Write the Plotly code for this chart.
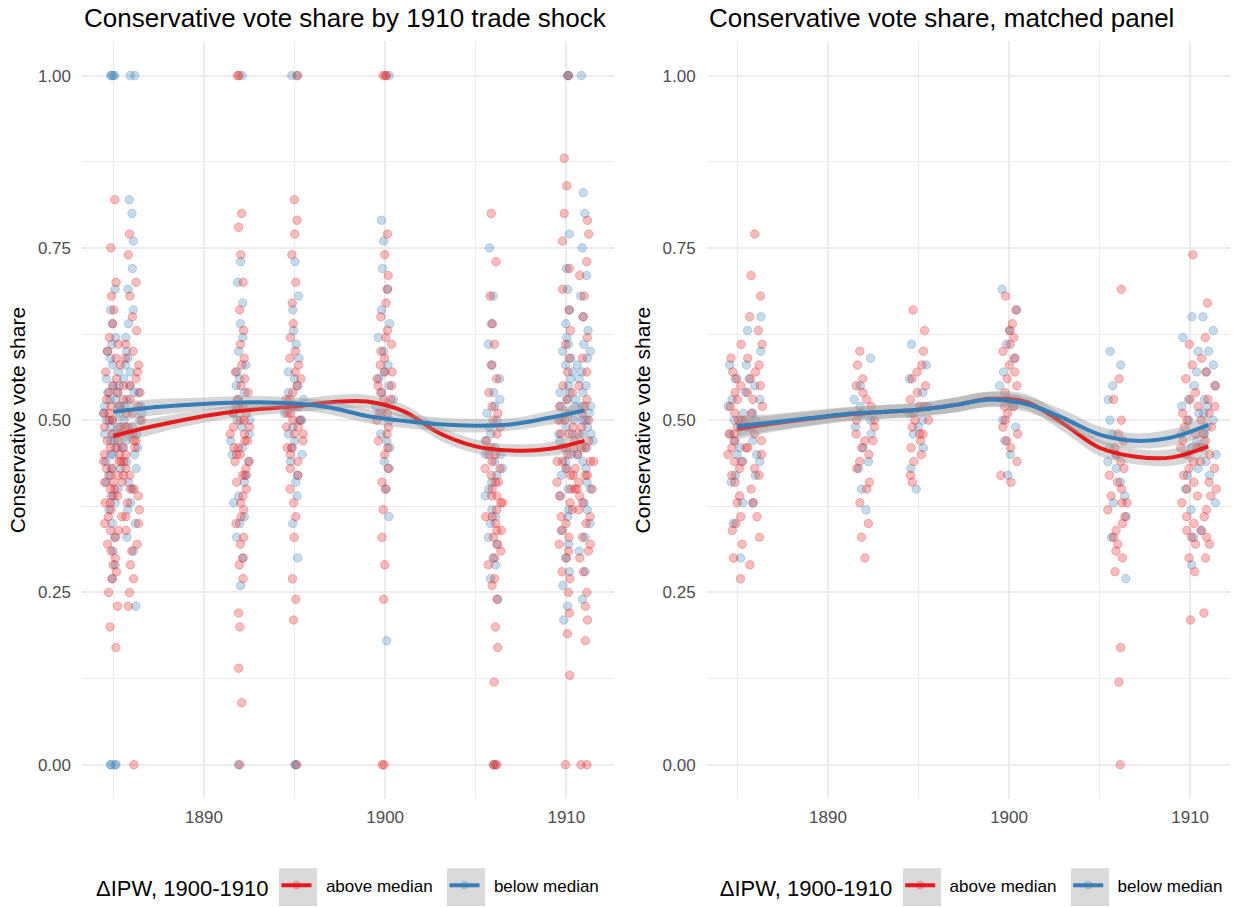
import plotly.graph_objects as go

RED = "#E41A1C"
BLUE = "#377EB8"
RED_PT = "rgba(228,26,28,0.29)"
BLUE_PT = "rgba(55,126,184,0.29)"
BAND = "rgba(153,153,153,0.40)"
FONT = "Liberation Sans, Arial, sans-serif"

ELECTIONS = [1885, 1886, 1892, 1895, 1900, 1906, 1910, 1911]
X_TICKS = [1890, 1900, 1910]
X_MINOR = [1885, 1895, 1905]
Y_TICKS = [0.0, 0.25, 0.5, 0.75, 1.0]
Y_TICKTEXT = ["0.00", "0.25", "0.50", "0.75", "1.00"]
Y_MINOR = [0.125, 0.375, 0.625, 0.875]

# ---------------- left panel: full sample ----------------
FULL_ABOVE_1885 = [0.17, 0.20, 0.23, 0.25, 0.27, 0.28, 0.29, 0.30, 0.31, 0.32, 0.33, 0.34, 0.34, 0.35, 0.36, 0.36,
                   0.37, 0.38, 0.38, 0.39, 0.39, 0.40, 0.40, 0.41, 0.41, 0.42, 0.42, 0.43, 0.43, 0.44, 0.44, 0.45,
                   0.45, 0.46, 0.46, 0.47, 0.47, 0.48, 0.48, 0.49, 0.49, 0.50, 0.50, 0.51, 0.51, 0.52, 0.52, 0.53,
                   0.54, 0.54, 0.55, 0.56, 0.57, 0.58, 0.59, 0.60, 0.61, 0.62, 0.64, 0.66, 0.68, 0.70, 0.75, 0.82]
FULL_BELOW_1885 = [0.00, 0.00, 0.00, 0.00, 0.27, 0.29, 0.31, 0.33, 0.35, 0.37, 0.38, 0.39, 0.40, 0.41, 0.42, 0.43,
                   0.43, 0.44, 0.45, 0.45, 0.46, 0.47, 0.47, 0.48, 0.48, 0.49, 0.49, 0.50, 0.50, 0.51, 0.51, 0.52,
                   0.52, 0.53, 0.53, 0.54, 0.54, 0.55, 0.55, 0.56, 0.57, 0.58, 0.59, 0.60, 0.61, 0.62, 0.64, 0.66,
                   0.69, 1.00, 1.00, 1.00, 1.00]
FULL_ABOVE_1886 = [0.00, 0.23, 0.25, 0.27, 0.29, 0.31, 0.32, 0.34, 0.35, 0.36, 0.37, 0.38, 0.39, 0.40, 0.40, 0.41,
                   0.42, 0.42, 0.43, 0.44, 0.44, 0.45, 0.46, 0.46, 0.47, 0.47, 0.48, 0.49, 0.49, 0.50, 0.51, 0.51,
                   0.52, 0.53, 0.53, 0.54, 0.55, 0.55, 0.56, 0.57, 0.58, 0.59, 0.60, 0.61, 0.63, 0.65, 0.68, 0.70,
                   0.74, 0.77]
FULL_BELOW_1886 = [0.23, 0.31, 0.33, 0.35, 0.37, 0.38, 0.40, 0.41, 0.43, 0.44, 0.45, 0.46, 0.46, 0.47, 0.48, 0.48,
                   0.49, 0.50, 0.50, 0.51, 0.52, 0.52, 0.53, 0.54, 0.54, 0.55, 0.56, 0.57, 0.58, 0.59, 0.60, 0.62,
                   0.64, 0.66, 0.69, 0.72, 0.76, 0.80, 0.82, 1.00, 1.00]
FULL_ABOVE_1892 = [0.00, 0.09, 0.14, 0.20, 0.22, 0.27, 0.29, 0.30, 0.32, 0.33, 0.35, 0.36, 0.37, 0.38, 0.39, 0.40,
                   0.41, 0.42, 0.42, 0.43, 0.44, 0.44, 0.45, 0.45, 0.46, 0.46, 0.47, 0.47, 0.48, 0.48, 0.49, 0.49,
                   0.50, 0.50, 0.51, 0.51, 0.52, 0.52, 0.53, 0.54, 0.55, 0.56, 0.57, 0.58, 0.59, 0.61, 0.63, 0.66,
                   0.70, 0.74, 0.78, 0.80, 1.00, 1.00]
FULL_BELOW_1892 = [0.00, 0.26, 0.30, 0.33, 0.35, 0.36, 0.38, 0.39, 0.41, 0.42, 0.44, 0.45, 0.46, 0.47, 0.48, 0.49,
                   0.50, 0.50, 0.51, 0.52, 0.53, 0.54, 0.55, 0.56, 0.57, 0.58, 0.60, 0.62, 0.64, 0.67, 0.70, 0.73,
                   1.00]
FULL_ABOVE_1895 = [0.00, 0.21, 0.24, 0.27, 0.33, 0.36, 0.38, 0.40, 0.42, 0.43, 0.44, 0.45, 0.46, 0.46, 0.47, 0.48,
                   0.48, 0.49, 0.49, 0.50, 0.50, 0.51, 0.51, 0.52, 0.52, 0.53, 0.53, 0.54, 0.55, 0.56, 0.57, 0.58,
                   0.59, 0.60, 0.62, 0.64, 0.67, 0.70, 0.74, 0.77, 0.79, 0.82, 1.00]
FULL_BELOW_1895 = [0.00, 0.00, 0.30, 0.35, 0.39, 0.41, 0.42, 0.44, 0.45, 0.46, 0.47, 0.48, 0.49, 0.50, 0.50, 0.51,
                   0.52, 0.53, 0.54, 0.55, 0.56, 0.57, 0.59, 0.61, 0.63, 0.66, 0.68, 0.73, 1.00, 1.00]
FULL_ABOVE_1900 = [0.00, 0.00, 0.24, 0.29, 0.33, 0.37, 0.40, 0.41, 0.43, 0.45, 0.46, 0.47, 0.48, 0.49, 0.50, 0.51,
                   0.51, 0.52, 0.53, 0.53, 0.54, 0.55, 0.55, 0.56, 0.57, 0.57, 0.58, 0.59, 0.60, 0.61, 0.62, 0.63,
                   0.65, 0.67, 0.69, 0.71, 0.74, 0.77, 1.00, 1.00, 1.00]
FULL_BELOW_1900 = [0.18, 0.36, 0.40, 0.43, 0.44, 0.46, 0.47, 0.48, 0.50, 0.51, 0.52, 0.53, 0.54, 0.55, 0.56, 0.57,
                   0.58, 0.60, 0.62, 0.64, 0.66, 0.69, 0.72, 0.76, 0.79, 1.00]
FULL_ABOVE_1906 = [0.00, 0.00, 0.00, 0.12, 0.17, 0.20, 0.24, 0.26, 0.27, 0.29, 0.30, 0.31, 0.32, 0.33, 0.34, 0.34,
                   0.35, 0.36, 0.36, 0.37, 0.38, 0.38, 0.39, 0.39, 0.40, 0.41, 0.41, 0.42, 0.43, 0.43, 0.44, 0.45,
                   0.45, 0.46, 0.47, 0.48, 0.49, 0.50, 0.51, 0.52, 0.54, 0.56, 0.58, 0.61, 0.64, 0.68, 0.73, 0.80]
FULL_BELOW_1906 = [0.00, 0.24, 0.27, 0.29, 0.30, 0.32, 0.33, 0.35, 0.36, 0.37, 0.39, 0.40, 0.41, 0.42, 0.43, 0.44,
                   0.45, 0.45, 0.46, 0.47, 0.48, 0.49, 0.50, 0.51, 0.52, 0.53, 0.54, 0.56, 0.58, 0.61, 0.64, 0.68,
                   0.75]
FULL_ABOVE_1910 = [0.00, 0.13, 0.19, 0.22, 0.25, 0.27, 0.28, 0.30, 0.31, 0.32, 0.33, 0.34, 0.35, 0.36, 0.37, 0.38,
                   0.39, 0.40, 0.40, 0.41, 0.42, 0.42, 0.43, 0.44, 0.44, 0.45, 0.46, 0.46, 0.47, 0.48, 0.48, 0.49,
                   0.50, 0.50, 0.51, 0.52, 0.53, 0.54, 0.55, 0.57, 0.59, 0.61, 0.63, 0.66, 0.69, 0.72, 0.76, 0.80,
                   0.84, 0.88, 1.00]
FULL_BELOW_1910 = [0.21, 0.23, 0.26, 0.28, 0.30, 0.32, 0.34, 0.36, 0.37, 0.39, 0.40, 0.42, 0.43, 0.44, 0.45, 0.46,
                   0.47, 0.48, 0.48, 0.49, 0.50, 0.50, 0.51, 0.52, 0.52, 0.53, 0.54, 0.54, 0.55, 0.56, 0.57, 0.58,
                   0.59, 0.60, 0.61, 0.62, 0.64, 0.66, 0.69, 0.72, 0.77, 1.00, 1.00]
FULL_ABOVE_1911 = [0.00, 0.00, 0.18, 0.21, 0.23, 0.25, 0.28, 0.30, 0.31, 0.32, 0.33, 0.35, 0.36, 0.37, 0.38, 0.39,
                   0.40, 0.40, 0.41, 0.42, 0.42, 0.43, 0.44, 0.44, 0.45, 0.46, 0.46, 0.47, 0.48, 0.49, 0.50, 0.51,
                   0.52, 0.53, 0.55, 0.57, 0.59, 0.62, 0.65, 0.68, 0.71, 0.73, 0.77, 0.79]
FULL_BELOW_1911 = [0.24, 0.28, 0.31, 0.33, 0.35, 0.37, 0.38, 0.40, 0.41, 0.43, 0.44, 0.45, 0.46, 0.47, 0.48, 0.48,
                   0.49, 0.50, 0.50, 0.51, 0.52, 0.52, 0.53, 0.54, 0.55, 0.56, 0.57, 0.58, 0.59, 0.60, 0.61, 0.63,
                   0.65, 0.68, 0.71, 0.75, 0.80, 0.83, 1.00]

# ---------------- right panel: matched panel ----------------
MATCH_ABOVE_1885 = [0.27, 0.30, 0.32, 0.34, 0.35, 0.36, 0.38, 0.39, 0.41, 0.42, 0.43, 0.44, 0.44, 0.45, 0.46, 0.46,
                    0.47, 0.48, 0.48, 0.49, 0.50, 0.50, 0.51, 0.52, 0.53, 0.54, 0.55, 0.56, 0.57, 0.59, 0.61]
MATCH_BELOW_1885 = [0.30, 0.35, 0.38, 0.41, 0.42, 0.44, 0.45, 0.46, 0.47, 0.48, 0.49, 0.50, 0.51, 0.52, 0.53, 0.54,
                    0.56, 0.58]
MATCH_ABOVE_1886 = [0.29, 0.33, 0.36, 0.38, 0.40, 0.42, 0.43, 0.45, 0.46, 0.47, 0.48, 0.49, 0.50, 0.51, 0.52, 0.53,
                    0.54, 0.55, 0.56, 0.57, 0.58, 0.59, 0.61, 0.63, 0.65, 0.68, 0.71, 0.77]
MATCH_BELOW_1886 = [0.38, 0.42, 0.44, 0.45, 0.47, 0.49, 0.50, 0.51, 0.53, 0.55, 0.56, 0.58, 0.60, 0.63, 0.65]
MATCH_ABOVE_1892 = [0.30, 0.33, 0.35, 0.38, 0.40, 0.41, 0.43, 0.44, 0.45, 0.46, 0.47, 0.47, 0.48, 0.49, 0.50, 0.50,
                    0.51, 0.52, 0.53, 0.54, 0.55, 0.56, 0.58, 0.60]
MATCH_BELOW_1892 = [0.37, 0.40, 0.43, 0.44, 0.46, 0.48, 0.49, 0.50, 0.51, 0.52, 0.53, 0.55, 0.59]
MATCH_ABOVE_1895 = [0.41, 0.42, 0.44, 0.45, 0.46, 0.47, 0.48, 0.48, 0.49, 0.50, 0.50, 0.51, 0.52, 0.52, 0.53, 0.54,
                    0.55, 0.56, 0.57, 0.58, 0.60, 0.63, 0.66]
MATCH_BELOW_1895 = [0.40, 0.43, 0.46, 0.48, 0.49, 0.50, 0.51, 0.52, 0.54, 0.56, 0.58, 0.61]
MATCH_ABOVE_1900 = [0.41, 0.42, 0.44, 0.46, 0.47, 0.48, 0.49, 0.50, 0.51, 0.52, 0.52, 0.53, 0.54, 0.55, 0.56, 0.57,
                    0.58, 0.59, 0.60, 0.61, 0.62, 0.63, 0.64, 0.66, 0.68]
MATCH_BELOW_1900 = [0.42, 0.45, 0.47, 0.49, 0.50, 0.52, 0.53, 0.55, 0.57, 0.59, 0.61, 0.63, 0.66, 0.69]
MATCH_ABOVE_1906 = [0.00, 0.12, 0.17, 0.28, 0.30, 0.31, 0.32, 0.33, 0.34, 0.35, 0.36, 0.37, 0.38, 0.38, 0.39, 0.40,
                    0.41, 0.42, 0.43, 0.44, 0.45, 0.46, 0.47, 0.48, 0.50, 0.53, 0.56, 0.69]
MATCH_BELOW_1906 = [0.27, 0.33, 0.36, 0.38, 0.39, 0.41, 0.43, 0.44, 0.45, 0.46, 0.48, 0.50, 0.53, 0.55, 0.58, 0.60]
MATCH_ABOVE_1910 = [0.21, 0.28, 0.30, 0.32, 0.33, 0.34, 0.35, 0.36, 0.38, 0.39, 0.40, 0.41, 0.42, 0.43, 0.44, 0.45,
                    0.46, 0.46, 0.47, 0.48, 0.49, 0.50, 0.51, 0.52, 0.53, 0.54, 0.56, 0.58, 0.61, 0.74]
MATCH_BELOW_1910 = [0.29, 0.33, 0.37, 0.40, 0.42, 0.43, 0.45, 0.46, 0.47, 0.48, 0.50, 0.51, 0.52, 0.53, 0.55, 0.57,
                    0.60, 0.62, 0.65]
MATCH_ABOVE_1911 = [0.22, 0.30, 0.32, 0.33, 0.34, 0.36, 0.37, 0.39, 0.40, 0.41, 0.43, 0.44, 0.45, 0.46, 0.47, 0.48,
                    0.49, 0.50, 0.51, 0.52, 0.53, 0.55, 0.57, 0.59, 0.62, 0.67]
MATCH_BELOW_1911 = [0.34, 0.38, 0.42, 0.44, 0.45, 0.46, 0.48, 0.49, 0.50, 0.51, 0.52, 0.53, 0.55, 0.57, 0.58, 0.60,
                    0.63, 0.65]

# ---------------- smoothed fits ----------------
SMOOTH_X = [1885, 1887, 1889, 1891, 1893, 1895, 1897, 1899, 1901, 1903, 1905, 1907, 1909, 1911]
FULL_FIT_ABOVE = [0.477, 0.490, 0.501, 0.510, 0.516, 0.520, 0.526, 0.527, 0.513, 0.481, 0.462, 0.456, 0.458, 0.470]
FULL_FIT_BELOW = [0.512, 0.518, 0.522, 0.525, 0.526, 0.524, 0.518, 0.506, 0.499, 0.494, 0.492, 0.494, 0.503, 0.514]
FULL_SE = [0.014, 0.012, 0.010, 0.009, 0.009, 0.009, 0.010, 0.010, 0.010, 0.010, 0.010, 0.009, 0.010, 0.013]
MATCH_FIT_ABOVE = [0.487, 0.495, 0.502, 0.508, 0.512, 0.515, 0.522, 0.531, 0.526, 0.495, 0.460, 0.447, 0.446, 0.462]
MATCH_FIT_BELOW = [0.491, 0.497, 0.503, 0.509, 0.512, 0.515, 0.522, 0.530, 0.523, 0.503, 0.479, 0.470, 0.475, 0.493]
MATCH_SE = [0.015, 0.012, 0.011, 0.010, 0.010, 0.010, 0.011, 0.011, 0.011, 0.012, 0.012, 0.011, 0.012, 0.015]

FULL_ABOVE = [FULL_ABOVE_1885, FULL_ABOVE_1886, FULL_ABOVE_1892, FULL_ABOVE_1895,
              FULL_ABOVE_1900, FULL_ABOVE_1906, FULL_ABOVE_1910, FULL_ABOVE_1911]
FULL_BELOW = [FULL_BELOW_1885, FULL_BELOW_1886, FULL_BELOW_1892, FULL_BELOW_1895,
              FULL_BELOW_1900, FULL_BELOW_1906, FULL_BELOW_1910, FULL_BELOW_1911]
MATCH_ABOVE = [MATCH_ABOVE_1885, MATCH_ABOVE_1886, MATCH_ABOVE_1892, MATCH_ABOVE_1895,
               MATCH_ABOVE_1900, MATCH_ABOVE_1906, MATCH_ABOVE_1910, MATCH_ABOVE_1911]
MATCH_BELOW = [MATCH_BELOW_1885, MATCH_BELOW_1886, MATCH_BELOW_1892, MATCH_BELOW_1895,
               MATCH_BELOW_1900, MATCH_BELOW_1906, MATCH_BELOW_1910, MATCH_BELOW_1911]

fig = go.Figure()


def add_points(groups, color, xa, ya):
    xs, ys = [], []
    for yr, vals in zip(ELECTIONS, groups):
        xs += [yr] * len(vals)
        ys += vals
    fig.add_trace(go.Box(
        x=xs, y=ys, orientation="v", boxpoints="all", jitter=1, pointpos=0, width=1.15,
        fillcolor="rgba(0,0,0,0)", line=dict(width=0, color="rgba(0,0,0,0)"),
        marker=dict(size=8.5, color=color, line=dict(width=1, color=color)),
        hoveron="points", showlegend=False, xaxis=xa, yaxis=ya))


def add_fit(fit, se, color, xa, ya):
    lo = [f - s for f, s in zip(fit, se)]
    hi = [f + s for f, s in zip(fit, se)]
    fig.add_trace(go.Scatter(x=SMOOTH_X, y=lo, mode="lines", line=dict(width=0, shape="spline"),
                             showlegend=False, hoverinfo="skip", xaxis=xa, yaxis=ya))
    fig.add_trace(go.Scatter(x=SMOOTH_X, y=hi, mode="lines", line=dict(width=0, shape="spline"),
                             fill="tonexty", fillcolor=BAND, showlegend=False, hoverinfo="skip",
                             xaxis=xa, yaxis=ya))
    fig.add_trace(go.Scatter(x=SMOOTH_X, y=fit, mode="lines", line=dict(width=4, color=color, shape="spline"),
                             showlegend=False, xaxis=xa, yaxis=ya))


for xa, ya, above, below, fa, fb, se in [
    ("x", "y", FULL_ABOVE, FULL_BELOW, FULL_FIT_ABOVE, FULL_FIT_BELOW, FULL_SE),
    ("x2", "y2", MATCH_ABOVE, MATCH_BELOW, MATCH_FIT_ABOVE, MATCH_FIT_BELOW, MATCH_SE),
]:
    add_points(below, BLUE_PT, xa, ya)
    add_points(above, RED_PT, xa, ya)
    add_fit(fa, se, RED, xa, ya)
    add_fit(fb, se, BLUE, xa, ya)

# legend-only entries
NBSP = "\u00a0\u00a0"
for leg in ["legend", "legend2"]:
    for name, col, pt in [(NBSP + "above median", RED, RED_PT), (NBSP + "below median", BLUE, BLUE_PT)]:
        fig.add_trace(go.Scatter(x=[None], y=[None], mode="lines+markers", name=name,
                                 line=dict(color=col, width=4),
                                 marker=dict(size=9, color=pt, line=dict(width=0)),
                                 legend=leg, showlegend=True,
                                 xaxis="x" if leg == "legend" else "x2",
                                 yaxis="y" if leg == "legend" else "y2"))

GRID = "#EBEBEB"
xcommon = dict(tickvals=X_TICKS, showgrid=True, gridcolor=GRID, gridwidth=1.6, zeroline=False,
               showline=False, ticks="", tickfont=dict(size=17, color="#4D4D4D", family=FONT),
               ticklabelstandoff=6,
               minor=dict(tickvals=X_MINOR, showgrid=True, gridcolor=GRID, gridwidth=0.8))
ycommon = dict(range=[-0.05, 1.05], tickvals=Y_TICKS, ticktext=Y_TICKTEXT, showgrid=True, gridcolor=GRID,
               gridwidth=1.6, zeroline=False, showline=False, ticks="",
               tickfont=dict(size=17, color="#4D4D4D", family=FONT), ticklabelstandoff=10,
               minor=dict(tickvals=Y_MINOR, showgrid=True, gridcolor=GRID, gridwidth=0.8),
               title=dict(text="Conservative vote share", font=dict(size=21, color="black", family=FONT),
                          standoff=6),
               domain=[0.114, 0.9544])

legcommon = dict(orientation="h", yanchor="middle", y=0.0165, xanchor="left", bgcolor="rgba(0,0,0,0)",
                 traceorder="normal",
                 font=dict(size=17, color="black", family=FONT), entrywidth=123, entrywidthmode="pixels",
                 title=dict(text="\u0394IPW, 1900-1910", side="left", font=dict(size=22, color="black", family=FONT)))

shapes = []
for x0 in [279, 447, 903, 1071]:
    shapes.append(dict(type="rect", xref="paper", yref="paper", x0=x0 / 1239, x1=(x0 + 38) / 1239,
                       y0=(907 - 911) / 907, y1=(907 - 873) / 907, fillcolor="#D9D9D9",
                       line=dict(width=0), layer="below"))

fig.update_layout(
    width=1239, height=907, margin=dict(l=0, r=0, t=0, b=0),
    paper_bgcolor="white", plot_bgcolor="white",
    font=dict(family=FONT, color="black"),
    boxmode="overlay",
    xaxis=dict(domain=[82 / 1239, 614 / 1239], range=[1883.27, 1912.63], anchor="y", **xcommon),
    xaxis2=dict(domain=[706.6 / 1239, 1230 / 1239], range=[1883.3, 1912.2], anchor="y2", **xcommon),
    yaxis=dict(anchor="x", **ycommon),
    yaxis2=dict(anchor="x2", **ycommon),
    legend=dict(x=94 / 1239, **legcommon),
    legend2=dict(x=717.7 / 1239, **legcommon),
    shapes=shapes,
    annotations=[
        dict(text="Conservative vote share by 1910 trade shock", xref="paper", yref="paper",
             x=82 / 1239, y=(907 - 18) / 907, xanchor="left", yanchor="middle", showarrow=False,
             font=dict(size=26, color="black", family=FONT)),
        dict(text="Conservative vote share, matched panel", xref="paper", yref="paper",
             x=706.6 / 1239, y=(907 - 18) / 907, xanchor="left", yanchor="middle", showarrow=False,
             font=dict(size=26, color="black", family=FONT)),
    ],
)

fig.write_html("out.html")
